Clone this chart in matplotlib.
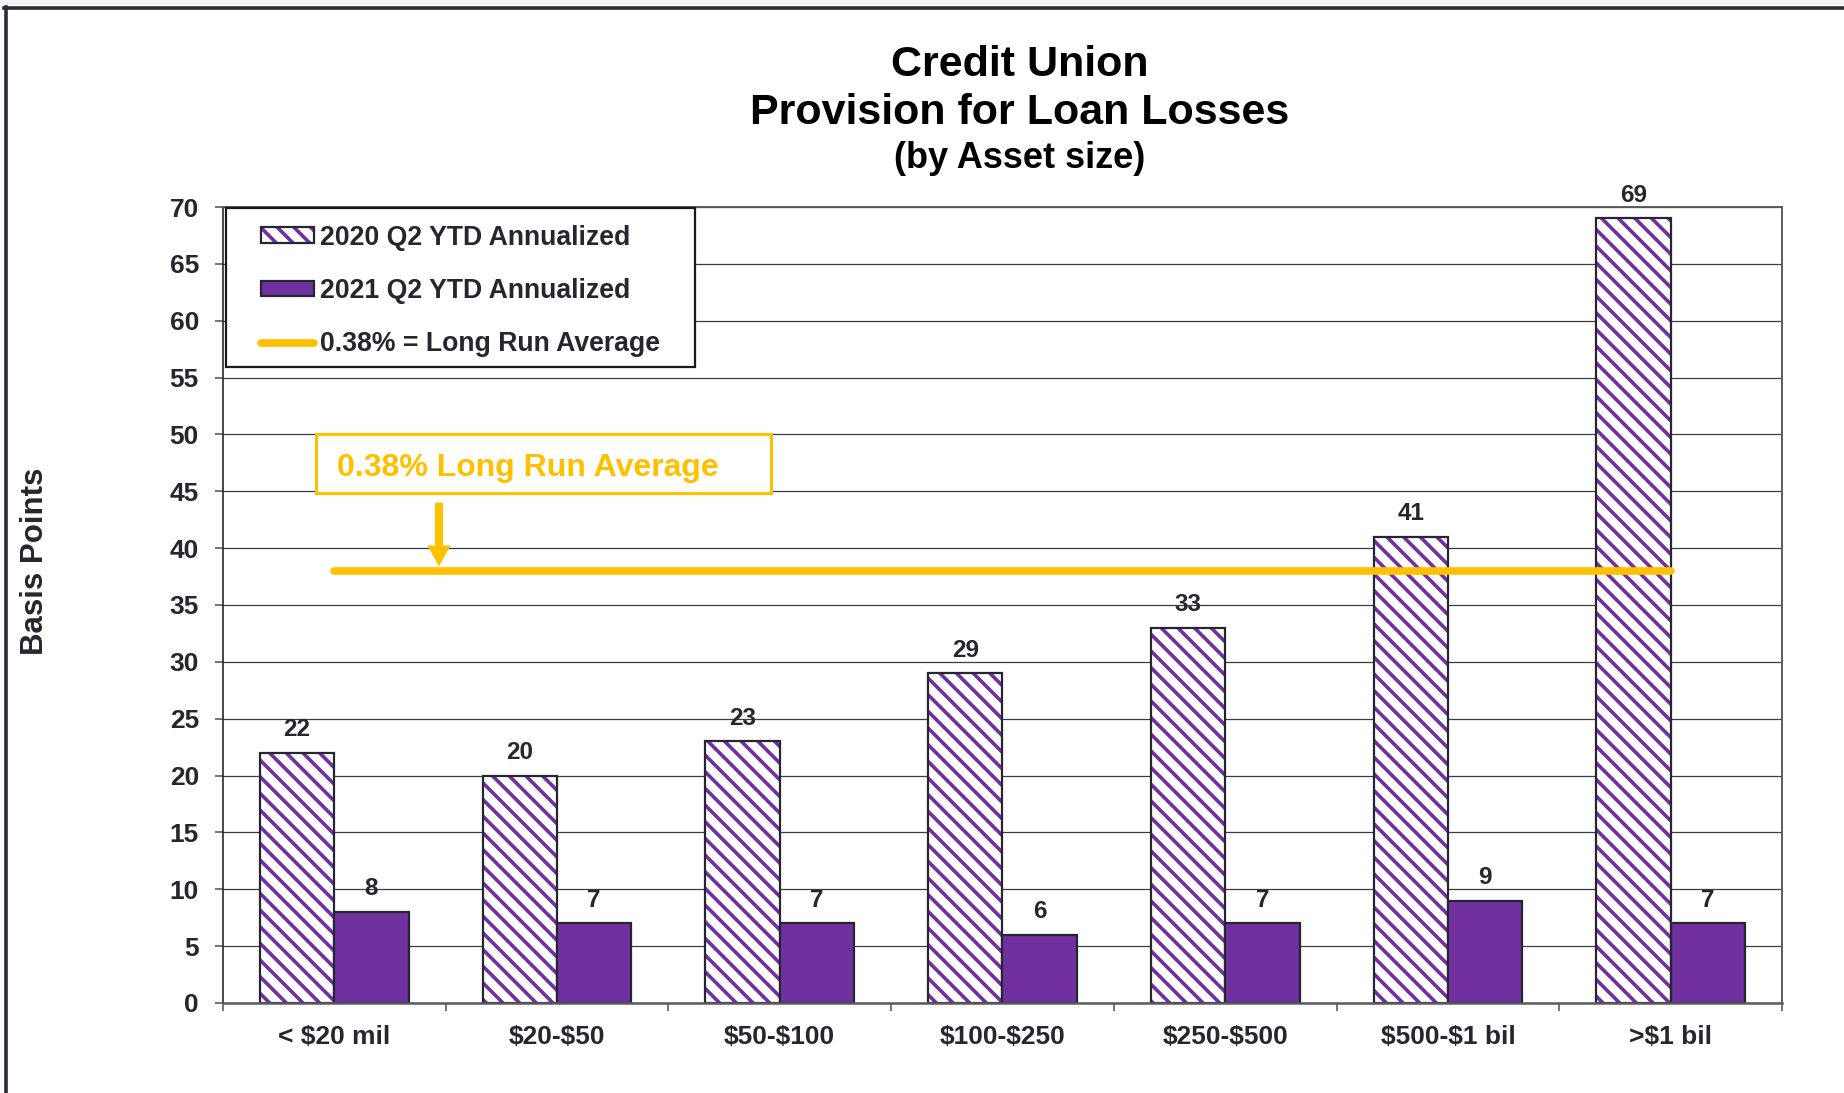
import matplotlib
matplotlib.use("Agg")
import matplotlib.pyplot as plt
from matplotlib.patches import Patch, Rectangle
from matplotlib.lines import Line2D
from matplotlib.legend_handler import HandlerTuple

# data
categories = ["< $20 mil", "$20-$50", "$50-$100", "$100-$250", "$250-$500", "$500-$1 bil", ">$1 bil"]
q2_2020 = [22, 20, 23, 29, 33, 41, 69]
q2_2021 = [8, 7, 7, 6, 7, 9, 7]
long_run_avg = 38  # basis points (0.38%)

purple = "#7030A0"
gold = "#FFC000"
dark = "#262630"
grey = "#5a5a62"

plt.rcParams["font.family"] = ["Liberation Sans", "DejaVu Sans"]
plt.rcParams["font.weight"] = "bold"
plt.rcParams["hatch.linewidth"] = 2.6
plt.rcParams["text.parse_math"] = False  # dollar signs in labels

fig = plt.figure(figsize=(18.44, 10.93), dpi=100)
ax = fig.add_axes([0.1209, 0.0824, 0.8455, 0.7282])

x = list(range(len(categories)))
w = 0.334

# 2020 hatched bars: hatch layer + outline layer
ax.bar([i - w / 2 for i in x], q2_2020, w, color="white", edgecolor=purple,
       hatch="\\\\", linewidth=0, zorder=2)
ax.bar([i - w / 2 for i in x], q2_2020, w, fill=False, edgecolor=dark,
       linewidth=1.6, zorder=2.1)
ax.bar([i + w / 2 for i in x], q2_2021, w, color=purple, edgecolor=dark,
       linewidth=1.6, zorder=2.1)

for i in x:
    ax.annotate(str(q2_2020[i]), (i - w / 2, q2_2020[i]), xytext=(0, 12),
                textcoords="offset points", ha="center", va="baseline",
                fontsize=17.5, color=dark)
    ax.annotate(str(q2_2021[i]), (i + w / 2, q2_2021[i]), xytext=(0, 12),
                textcoords="offset points", ha="center", va="baseline",
                fontsize=17.5, color=dark)

# long run average line
ax.plot([x[0], x[-1]], [long_run_avg, long_run_avg], color=gold, lw=5.5,
        solid_capstyle="round", zorder=3)

# callout box and arrow
ax.add_patch(Rectangle((-0.08, 44.85), 2.04, 5.15, facecolor="white",
                       edgecolor=gold, lw=2.2, zorder=3))
ax.text(0.012, 46.35, "0.38% Long Run Average", color=gold, fontsize=23,
        ha="left", va="baseline", zorder=4)
ax.annotate("", xy=(0.47, 38.4), xytext=(0.47, 44.0),
            arrowprops=dict(arrowstyle="simple,head_length=15,head_width=16.6,tail_width=5.8",
                            mutation_scale=1, color=gold, lw=0, shrinkA=0, shrinkB=0),
            zorder=4)

# axes
ax.set_xlim(-0.5, len(categories) - 0.5)
ax.set_ylim(0, 70)
ax.set_yticks(range(0, 71, 5))
ax.set_xticks([i - 0.5 for i in range(len(categories) + 1)])
ax.set_xticklabels([])
ax.set_xticks(x, minor=True)
ax.set_xticklabels(categories, minor=True)
ax.tick_params(axis="x", which="major", length=5.8, width=1.2, color=grey, direction="out")
ax.tick_params(axis="x", which="minor", length=0, pad=16, labelsize=19, labelcolor=dark)
ax.tick_params(axis="y", length=5.8, width=1.2, color=grey, pad=11.5, labelsize=19,
               labelcolor=dark)
ax.grid(axis="y", color="#3c3c46", lw=0.9)
ax.set_axisbelow(True)
ax.spines["left"].set_color(dark)
ax.spines["left"].set_linewidth(1.2)
ax.spines["bottom"].set_color(grey)
ax.spines["bottom"].set_linewidth(1.8)
for s in ("top", "right"):
    ax.spines[s].set_color(grey)
    ax.spines[s].set_linewidth(1.4)

# legend with a hand-placed frame
ax.add_patch(Rectangle((0.0019, 0.799), 0.3009, 0.1997, transform=ax.transAxes,
                       facecolor="white", edgecolor="#1a1a1a", lw=1.6, zorder=4,
                       clip_on=False))
h2020 = (Patch(facecolor="white", edgecolor=purple, hatch="\\\\", lw=0),
         Patch(fill=False, edgecolor=dark, lw=1.6))
h2021 = Patch(facecolor=purple, edgecolor=dark, lw=1.6)
hline = Line2D([], [], color=gold, lw=5.5, solid_capstyle="round")
leg = ax.legend([h2020, h2021, hline],
                ["2020 Q2 YTD Annualized", "2021 Q2 YTD Annualized",
                 "0.38% = Long Run Average"],
                handler_map={tuple: HandlerTuple(ndivide=1)},
                loc="upper left", bbox_to_anchor=(0.0244, 0.978), frameon=False,
                borderpad=0, borderaxespad=0, labelspacing=1.03,
                handlelength=1.97, handleheight=0.53, handletextpad=0.23,
                prop={"weight": "bold", "size": 19.2})
for t in leg.get_texts():
    t.set_color(dark)
leg.set_zorder(5)

# titles and y label
fig.text(0.553, 1 - 76.4 / 1093, "Credit Union", ha="center", va="baseline",
         fontsize=31, color="black")
fig.text(0.553, 1 - 124.4 / 1093, "Provision for Loan Losses", ha="center",
         va="baseline", fontsize=31, color="black")
fig.text(0.553, 1 - 168 / 1093, "(by Asset size)", ha="center", va="baseline",
         fontsize=26, color="black")
fig.text(35 / 1844, 0.4862, "Basis Points", rotation=90, ha="center", va="center",
         fontsize=22.5, color=dark)

# outer border of the slide
fig.add_artist(Rectangle((0, 1 - 5 / 1093), 1, 5 / 1093, transform=fig.transFigure,
                         facecolor="#f3f3f3", edgecolor="none"))
fig.add_artist(Line2D([5.5 / 1844, 5.5 / 1844], [0, 1 - 7 / 1093],
                      transform=fig.transFigure, color="#2b2b36", lw=2.6))
fig.add_artist(Line2D([4 / 1844, 1], [1 - 8 / 1093, 1 - 8 / 1093],
                      transform=fig.transFigure, color="#2b2b36", lw=2.6))

fig.savefig("out.png", dpi=100)
